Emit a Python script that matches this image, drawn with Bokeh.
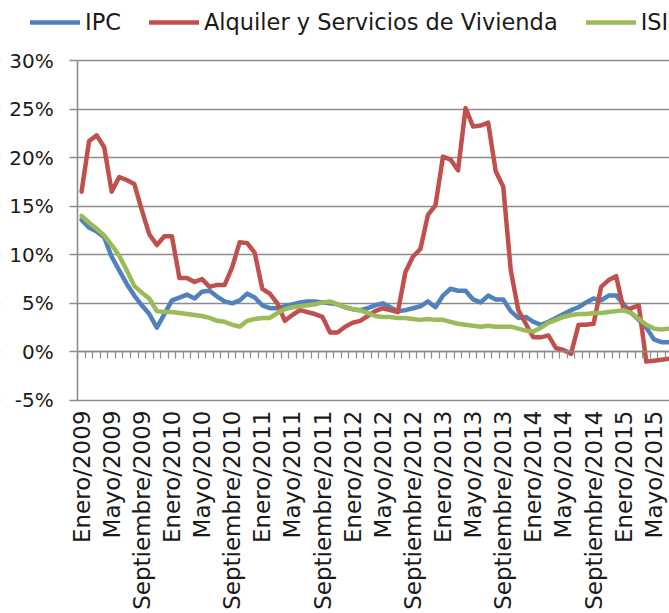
import math
from bokeh.plotting import figure
from bokeh.models import (Range1d, LinearAxis, FixedTicker, PrintfTickFormatter,
                          Legend, LegendItem, CustomJSTickFormatter, ColumnDataSource,
                          BoxAnnotation)
from bokeh.embed import file_html
from bokeh.resources import INLINE

# ---- data (monthly, Enero/2009 ... Julio/2015), values in % ----
MESES = ["Enero", "Febrero", "Marzo", "Abril", "Mayo", "Junio", "Julio",
         "Agosto", "Septiembre", "Octubre", "Noviembre", "Diciembre"]
ANIO_INICIO = 2009

ipc = [13.6, 12.8, 12.4, 11.8, 9.8, 8.4, 7.0, 5.8, 4.8, 3.9,
       2.5, 3.9, 5.3, 5.6, 5.9, 5.5, 6.2, 6.3, 5.7, 5.2,
       5.0, 5.3, 6.0, 5.6, 4.8, 4.5, 4.5, 4.7, 4.9, 5.1,
       5.2, 5.2, 5.1, 5.0, 4.9, 4.6, 4.4, 4.3, 4.5, 4.8,
       5.0, 4.6, 4.2, 4.3, 4.5, 4.7, 5.2, 4.6, 5.8, 6.5,
       6.3, 6.3, 5.4, 5.1, 5.8, 5.4, 5.4, 4.2, 3.5, 3.6,
       3.1, 2.8, 3.1, 3.5, 3.9, 4.3, 4.6, 5.1, 5.5, 5.3,
       5.8, 5.8, 4.9, 4.0, 3.3, 2.5, 1.3, 1.0, 1.0]

alquiler = [16.5, 21.7, 22.3, 21.1, 16.5, 18.0, 17.7, 17.3, 14.6, 12.1,
            11.0, 11.9, 11.9, 7.6, 7.6, 7.2, 7.5, 6.7, 6.9, 6.9,
            8.7, 11.3, 11.2, 10.2, 6.5, 6.0, 5.0, 3.2, 3.8, 4.3,
            4.1, 3.9, 3.6, 2.0, 2.0, 2.6, 3.0, 3.2, 3.7, 4.2,
            4.5, 4.3, 4.1, 8.2, 9.8, 10.6, 14.1, 15.1, 20.1, 19.8,
            18.7, 25.1, 23.2, 23.3, 23.6, 18.6, 17.0, 8.4, 4.3, 2.9,
            1.5, 1.5, 1.7, 0.4, 0.2, -0.2, 2.8, 2.8, 2.9, 6.7,
            7.4, 7.8, 4.3, 4.5, 4.8, -1.0, -0.9, -0.8, -0.7]

isi = [14.0, 13.3, 12.7, 12.0, 11.0, 9.9, 8.4, 6.8, 6.1, 5.5,
       4.2, 4.1, 4.1, 4.0, 3.9, 3.8, 3.7, 3.5, 3.2, 3.1,
       2.8, 2.6, 3.2, 3.4, 3.5, 3.5, 4.0, 4.4, 4.6, 4.7,
       4.8, 4.9, 5.1, 5.2, 4.9, 4.6, 4.4, 4.3, 4.0, 3.7,
       3.6, 3.6, 3.5, 3.5, 3.4, 3.3, 3.4, 3.3, 3.3, 3.1,
       2.9, 2.8, 2.7, 2.6, 2.7, 2.6, 2.6, 2.6, 2.4, 2.2,
       2.1, 2.5, 3.0, 3.3, 3.6, 3.8, 3.9, 3.9, 4.0, 4.0,
       4.1, 4.2, 4.3, 4.0, 3.4, 2.8, 2.4, 2.3, 2.4]

series_names = ["IPC", "Alquiler y Servicios de Vivienda", "ISI"]
series_colors = ["#4F81BD", "#C0504D", "#9BBB59"]

n = len(ipc)
idx = list(range(n))
periodos = [f"{MESES[k % 12]}/{ANIO_INICIO + k // 12}" for k in idx]
label_ticks = idx[::4]
y_ticks = [-5, 0, 5, 10, 15, 20, 25, 30]

FONT = "DejaVu Sans"
GRID = "#8c8c8c"
TXT = "#1a1a1a"

Y_MIN, Y_MAX = -5, 30             # value axis extent
X0 = -0.5                         # left edge of the category axis
# the frame spans the whole canvas; value axis at 77 px, 30% at 60 px, -5% at 400 px
X_START, X_END = -10.765, 78.08
Y_START, Y_END = -26.93, 36.18

src = ColumnDataSource(dict(x=idx, ipc=ipc, alq=alquiler, isi=isi))

p = figure(width=669, height=613, output_backend="svg", toolbar_location=None,
           x_range=Range1d(X_START, X_END), y_range=Range1d(Y_START, Y_END),
           min_border_left=0, min_border_right=0, min_border_top=0,
           min_border_bottom=0, y_axis_location=None, x_axis_location=None)
p.outline_line_color = None
p.background_fill_color = "white"
p.border_fill_color = "white"

# grid
p.xgrid.visible = False
p.ygrid.ticker = FixedTicker(ticks=y_ticks)
p.ygrid.grid_line_color = GRID
p.ygrid.grid_line_width = 1.6

# hide grid to the left of the value axis
p.add_layout(BoxAnnotation(right=X0, fill_color="white", fill_alpha=1,
                           line_color=None, level="underlay"))

# y axis at the category start
ya = LinearAxis(fixed_location=X0, bounds=(Y_MIN, Y_MAX),
                ticker=FixedTicker(ticks=y_ticks),
                formatter=PrintfTickFormatter(format="%d%%"))
ya.axis_line_color = GRID
ya.axis_line_width = 1.6
ya.major_tick_line_color = GRID
ya.major_tick_line_width = 1.6
ya.major_tick_out = 8
ya.major_tick_in = 0
ya.minor_tick_line_color = None
ya.major_label_standoff = 16
ya.major_label_text_font = FONT
ya.major_label_text_font_size = "20px"
ya.major_label_text_color = TXT
p.add_layout(ya, "left")

# x axis labels below the -5% line
xa = LinearAxis(fixed_location=Y_MIN, ticker=FixedTicker(ticks=label_ticks))
xa.major_label_overrides = {i: periodos[i] for i in label_ticks}
xa.major_label_orientation = math.pi / 2
xa.axis_line_color = None
xa.major_tick_line_color = None
xa.minor_tick_line_color = None
xa.major_tick_out = 0
xa.major_tick_in = 0
xa.major_label_standoff = 10
xa.major_label_text_font = FONT
xa.major_label_text_font_size = "23px"
xa.major_label_text_color = TXT
p.add_layout(xa, "below")

# category axis along 0%
zero_axis = LinearAxis(fixed_location=0, bounds=(X0, X_END),
                       ticker=FixedTicker(ticks=[i - 0.5 for i in range(n + 1)]),
                       formatter=CustomJSTickFormatter(code="return ''"))
zero_axis.axis_line_color = GRID
zero_axis.axis_line_width = 1.6
zero_axis.major_tick_line_color = GRID
zero_axis.major_tick_line_width = 1.2
zero_axis.major_tick_out = 7
zero_axis.major_tick_in = 0
zero_axis.minor_tick_line_color = None
zero_axis.major_label_text_font_size = "1px"
p.add_layout(zero_axis, "below")

renderers = []
for col, name, color in zip(["ipc", "alq", "isi"], series_names, series_colors):
    r = p.line("x", col, source=src, line_color=color, line_width=4.5,
               line_join="round", line_cap="round")
    renderers.append(r)

legend = Legend(items=[LegendItem(label=nm, renderers=[r]) for nm, r in zip(series_names, renderers)],
                orientation="horizontal", location=(30, 577))
legend.glyph_width = 50
legend.glyph_height = 28
legend.label_height = 28
legend.label_standoff = 5
legend.spacing = 28
legend.padding = 0
legend.margin = 0
legend.background_fill_alpha = 0
legend.border_line_color = None
legend.label_text_font = FONT
legend.label_text_font_size = "22.5px"
legend.label_text_color = TXT
p.add_layout(legend)

open("out.html", "w").write(file_html(p, INLINE))
